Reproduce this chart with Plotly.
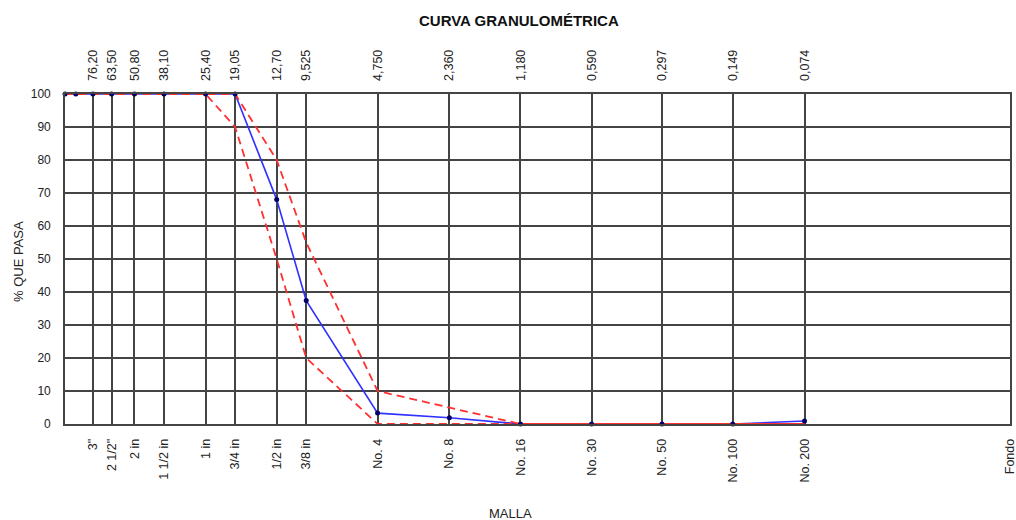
import math
import plotly.graph_objects as go

# ---------------- data ----------------
sieve_names = ['3"', '2 1/2"', '2 in', '1 1/2 in', '1 in', '3/4 in', '1/2 in', '3/8 in',
               'No. 4', 'No. 8', 'No. 16', 'No. 30', 'No. 50', 'No. 100', 'No. 200', 'Fondo']
sieve_mm = [76.20, 63.50, 50.80, 38.10, 25.40, 19.05, 12.70, 9.525,
            4.750, 2.360, 1.180, 0.590, 0.297, 0.149, 0.074]
fondo_mm = 0.01
mm_labels = ['76,20', '63,50', '50,80', '38,10', '25,40', '19,05', '12,70', '9,525',
             '4,750', '2,360', '1,180', '0,590', '0,297', '0,149', '0,074']

sample_mm = [100, 90] + sieve_mm
pct_pass = [100, 100, 100, 100, 100, 100, 100, 100, 68, 37.4, 3.3, 1.9, 0, 0, 0, 0, 0.9]
upper_lim = [100, 100, 100, 100, 100, 100, 100, 100, 80, 55, 10, 5, 0, 0, 0, 0, 0]
lower_lim = [100, 100, 100, 100, 100, 100, 100, 90, 50, 20, 0, 0, 0, 0, 0, 0, 0]

y_ticks = list(range(0, 101, 10))

FONT = "Liberation Sans, Arial, sans-serif"
TXT = "#222222"
GRID = "#444444"

x_range = [math.log10(100), math.log10(fondo_mm) - 0.0005]

fig = go.Figure()

fig.add_trace(go.Scatter(x=sample_mm, y=pct_pass, mode="lines",
                         line=dict(color="#3030ff", width=1.6),
                         cliponaxis=False, showlegend=False, hoverinfo="skip"))
fig.add_trace(go.Scatter(x=sample_mm, y=upper_lim, mode="lines",
                         line=dict(color="#ff3030", width=1.8, dash="8px,5px"),
                         cliponaxis=False, showlegend=False))
fig.add_trace(go.Scatter(x=sample_mm, y=lower_lim, mode="lines",
                         line=dict(color="#ff3030", width=1.8, dash="8px,5px"),
                         cliponaxis=False, showlegend=False))
fig.add_trace(go.Scatter(x=sample_mm, y=pct_pass, mode="markers",
                         marker=dict(color="#000066", size=5),
                         cliponaxis=False, showlegend=False))
# invisible trace to carry the top (mm) axis
fig.add_trace(go.Scatter(x=sieve_mm, y=[None] * len(sieve_mm), xaxis="x2",
                         mode="markers", showlegend=False, hoverinfo="skip"))

fig.update_layout(
    width=1016, height=520,
    margin=dict(l=65, r=6, t=94, b=96),
    paper_bgcolor="white", plot_bgcolor="white",
    font=dict(family=FONT, size=12, color=TXT),
    showlegend=False,
    xaxis=dict(type="log", range=x_range, automargin=False,
               tickmode="array", tickvals=sieve_mm + [fondo_mm], ticktext=sieve_names,
               tickangle=-90, ticks="", ticklabelstandoff=8, ticklabeloverflow="allow",
               showgrid=True, gridcolor=GRID, gridwidth=1.6,
               showline=True, linecolor=GRID, linewidth=1.6, mirror=True,
               zeroline=False, tickfont=dict(size=12.5, color=TXT)),
    xaxis2=dict(type="log", range=x_range, overlaying="x", side="top", automargin=False,
                tickmode="array", tickvals=sieve_mm, ticktext=mm_labels,
                tickangle=-90, ticks="", ticklabelstandoff=12, ticklabeloverflow="allow",
                showgrid=False, showline=False, zeroline=False,
                tickfont=dict(size=12.5, color=TXT)),
    yaxis=dict(range=[0, 100], tickmode="array", tickvals=y_ticks, automargin=False,
               ticks="", ticklabelstandoff=10,
               showgrid=True, gridcolor=GRID, gridwidth=1.6,
               showline=True, linecolor=GRID, linewidth=1.6, mirror=True,
               zeroline=False, tickfont=dict(size=12, color=TXT)),
    annotations=[
        dict(text="<b>CURVA GRANULOMÉTRICA</b>", xref="paper", yref="paper",
             x=0.4804, y=1.2242, xanchor="center", yanchor="middle", showarrow=False,
             font=dict(family=FONT, size=15, color="#111111")),
        dict(text="MALLA", xref="paper", yref="paper",
             x=0.4709, y=-0.2727, xanchor="center", yanchor="middle", showarrow=False,
             font=dict(family=FONT, size=13, color=TXT)),
        dict(text="% QUE PASA", xref="paper", yref="paper", textangle=-90,
             x=-0.0497, y=0.4909, xanchor="center", yanchor="middle", showarrow=False,
             font=dict(family=FONT, size=13, color=TXT)),
    ],
)

# remove the browser's default 8px body margin so the figure fills the window exactly
fig.write_html("out.html",
               config={"displayModeBar": False},
               post_script="document.body.style.margin='0';document.body.style.overflow='hidden';")
